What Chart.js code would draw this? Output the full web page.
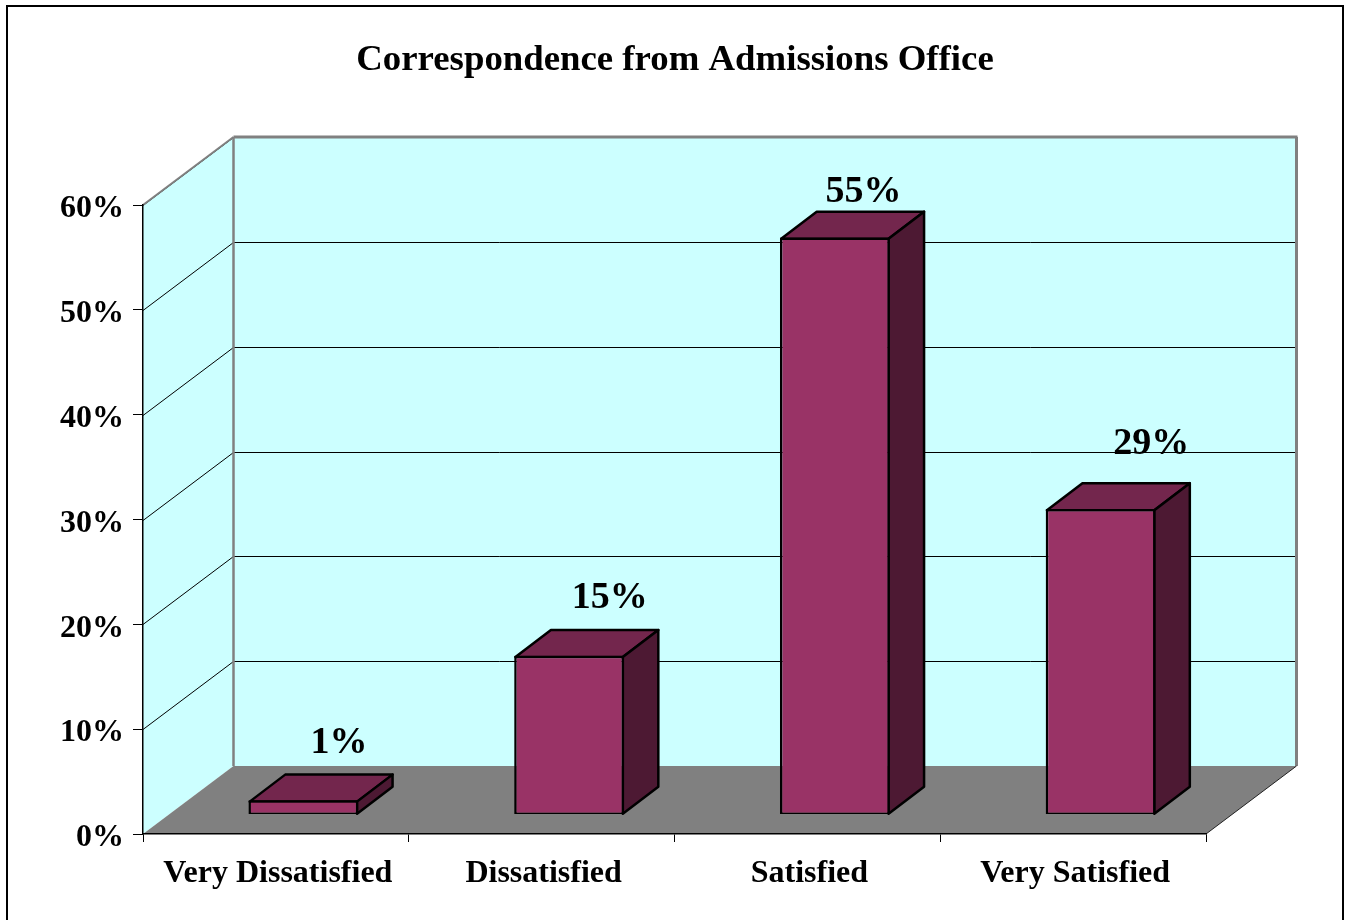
<!DOCTYPE html>
<html>
<head>
<meta charset="utf-8">
<title>Correspondence from Admissions Office</title>
<script src="https://cdn.jsdelivr.net/npm/chart.js@4"></script>
<style>
	html, body { margin: 0; padding: 0; background: #fff; overflow: hidden; }
	canvas { display: block; }
</style>
</head>
<body>
<canvas id="chart" width="1346" height="920"></canvas>
<script>
const categories = ['Very Dissatisfied', 'Dissatisfied', 'Satisfied', 'Very Satisfied'];
// the labels round them
const percents = [1.3, 15.1, 55, 29.1];

// how far each value label sits from the top of its bar
const labelShiftX = [63, 68, 56, 78];
const labelShiftY = [-77, -78, -65, -85];

const serif = '"Liberation Serif", "Times New Roman", serif';
const wallDepth = { x: 90.5, y: -68 };
const barInset = { x: 27.5, y: -20 };
const barDepth = { x: 35.5, y: -27 };
const barLine = 2.5;

function poly(ctx, pts, fill, stroke, lineWidth) {
	ctx.beginPath();
	pts.forEach((p, i) => i ? ctx.lineTo(p[0], p[1]) : ctx.moveTo(p[0], p[1]));
	ctx.closePath();
	if (fill) {
		ctx.fillStyle = fill;
		ctx.fill();
	}
	if (stroke) {
		ctx.strokeStyle = stroke;
		ctx.lineWidth = lineWidth;
		ctx.lineJoin = 'round';
		ctx.stroke();
	}
}

function line(ctx, x1, y1, x2, y2, color, lineWidth) {
	ctx.beginPath();
	ctx.moveTo(x1, y1);
	ctx.lineTo(x2, y2);
	ctx.strokeStyle = color;
	ctx.lineWidth = lineWidth;
	ctx.stroke();
}

// walls, floor and outer frame, all hung off the chart scales
const box3d = {
	id: 'box3d',
	beforeDraw(chart) {
		const { ctx, chartArea: a, scales } = chart;
		const dx = wallDepth.x, dy = wallDepth.y;
		ctx.save();
		ctx.fillStyle = '#fff';
		ctx.fillRect(0, 0, chart.width, chart.height);
		ctx.strokeStyle = '#000';
		ctx.lineWidth = 2;
		ctx.strokeRect(7, 6, 1336, 930);

		poly(ctx, [[a.left, a.top], [a.left + dx, a.top + dy], [a.left + dx, a.bottom + dy], [a.left, a.bottom]], '#ccffff');
		poly(ctx, [[a.left + dx, a.top + dy], [a.right + dx, a.top + dy], [a.right + dx, a.bottom + dy], [a.left + dx, a.bottom + dy]], '#ccffff');
		poly(ctx, [[a.left, a.bottom], [a.left + dx, a.bottom + dy], [a.right + dx, a.bottom + dy], [a.right, a.bottom]], '#808080');

		scales.y.ticks.forEach(t => {
			if (t.value === 0) return;
			const y = Math.round(scales.y.getPixelForValue(t.value) + dy) + 0.5;
			line(ctx, a.left, y - dy, a.left + dx, y, '#000', 1);
			line(ctx, a.left + dx, y, a.right + dx, y, '#000', 1);
		});

		// grey edges of the box
		line(ctx, a.left, a.top, a.left + dx, a.top + dy, '#808080', 2);
		line(ctx, a.left + dx, a.top + dy, a.right + dx + 1, a.top + dy, '#808080', 3);
		line(ctx, a.left + dx, a.top + dy, a.left + dx, a.bottom + dy, '#808080', 2.5);
		line(ctx, a.right + dx, a.top + dy, a.right + dx, a.bottom + dy, '#808080', 3);
		line(ctx, a.right, a.bottom, a.right + dx, a.bottom + dy, '#222', 1);
		ctx.restore();
	},
	beforeDatasetDraw(chart, args) {
		const { ctx } = chart;
		ctx.save();
		ctx.translate(barInset.x, barInset.y);
		args.meta.data.forEach(el => {
			const p = el.getProps(['x', 'y', 'base', 'width'], true);
			const left = p.x - p.width / 2 + barLine / 2, right = p.x + p.width / 2 - barLine / 2;
			const top = p.y + barLine / 2, bottom = p.base - barLine / 2;
			const dx = barDepth.x, dy = barDepth.y;
			poly(ctx, [[left, top], [left + dx, top + dy], [right + dx, top + dy], [right, top]], '#73264d', '#000', barLine);
			poly(ctx, [[right, top], [right + dx, top + dy], [right + dx, bottom + dy], [right, bottom]], '#4d1933', '#000', barLine);
		});
	},
	afterDatasetDraw(chart) {
		chart.ctx.restore();
	},
	afterDatasetsDraw(chart) {
		const { ctx } = chart;
		ctx.save();
		ctx.font = 'bold 38px ' + serif;
		ctx.fillStyle = '#000';
		ctx.textAlign = 'center';
		ctx.textBaseline = 'middle';
		chart.getDatasetMeta(0).data.forEach((el, i) => {
			ctx.fillText(Math.round(percents[i]) + '%', el.x + labelShiftX[i], el.y + labelShiftY[i]);
		});
		ctx.restore();
	}
};

new Chart(document.getElementById('chart'), {
	type: 'bar',
	data: {
		labels: categories,
		datasets: [{
			data: percents,
			backgroundColor: '#993366',
			borderColor: '#000',
			borderWidth: barLine,
			borderSkipped: false,
			base: -0.1,
			barPercentage: 0.4135,
			categoryPercentage: 1
		}]
	},
	options: {
		responsive: false,
		animation: false,
		devicePixelRatio: 1,
		layout: { padding: { left: 4 } },
		plugins: {
			legend: { display: false },
			tooltip: { enabled: false },
			title: {
				display: true,
				text: 'Correspondence from Admissions Office',
				color: '#000',
				font: { family: serif, size: 36.8, weight: 'bold', lineHeight: 1.2 },
				padding: { top: 38.6, bottom: 122.24 }
			}
		},
		scales: {
			x: {
				grid: { drawOnChartArea: false, color: '#000', tickLength: 8, offset: true },
				border: { color: '#000', width: 1.5 },
				ticks: { color: '#000', padding: 13, labelOffset: 2, maxRotation: 0, autoSkip: false, font: { family: serif, size: 32, weight: 'bold' } },
				afterFit: s => { s.height = 86; }
			},
			y: {
				min: 0,
				max: 60,
				grid: { drawOnChartArea: false, color: '#000', tickLength: 10 },
				border: { color: '#000', width: 1.5 },
				ticks: { stepSize: 10, color: '#000', padding: 9, labelOffset: 4, font: { family: serif, size: 32, weight: 'bold' }, callback: v => v + '%' },
				afterFit: s => { s.width = 139; }
			},
			// empty axis, only keeps the space right of the plot
			yRight: {
				position: 'right',
				min: 0,
				max: 60,
				grid: { display: false },
				border: { display: false },
				ticks: { display: false },
				afterFit: s => { s.width = 140; }
			}
		}
	},
	plugins: [box3d]
});
</script>
</body>
</html>
